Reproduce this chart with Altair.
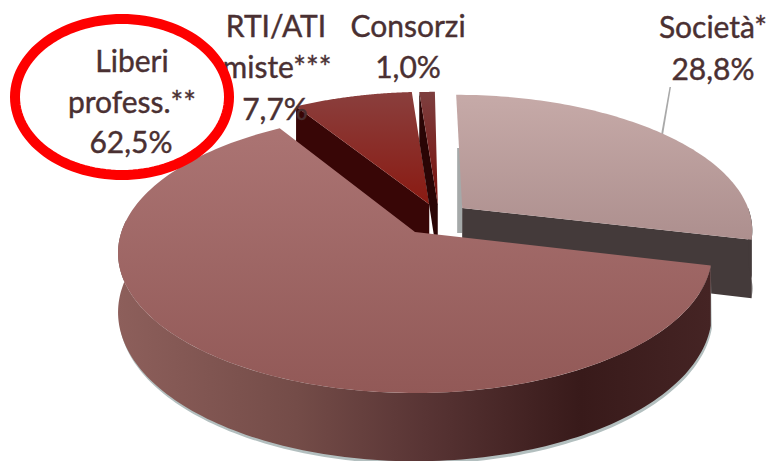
import math
import altair as alt
import pandas as pd

# ---- chart values ----
categories = ["Società*", "Liberi profess.**", "RTI/ATI miste***", "Consorzi"]
shares = [28.8, 62.5, 7.7, 1.0]
explode_x = [0.165, 0.0, 0.05, 0.08]
explode_y = [-0.18, 0.0, -0.21, -0.21]
top_stops = [
    ["#c6aaa8", "#ad8f8e"],
    ["#ab7473", "#925957"],
    ["#8a3f3d", "#8a1a12"],
    ["#7d3f3f", "#7a0f0a"],
]
wall_colors = ["#443a3a", "#3a1c1c", "#380606", "#2a0505"]
label_lines = ["Liberi", "profess.**", "62,5%", "RTI/ATI", "miste***", "7,7%",
               "Consorzi", "1,0%", "Società*", "28,8%"]
label_x = [132, 132, 131, 276, 277, 275, 408, 408, 713, 713]
label_y = [72, 113, 153, 37, 78, 120, 37, 78, 38, 80]

# ---- pie geometry (perspective disc) ----
CX, CY = 415, 232
A0, B0, K = 293.6, 136.85, 0.15
DEPTH = 58


def project(X, Y, drop=0.0):
    w = 1 - K * Y
    return CX + A0 * X / w, CY + B0 * Y / w + drop / w


def arc(i, t0, t1, drop=0.0, n=90):
    pts = []
    for j in range(n + 1):
        t = math.radians(t0 + (t1 - t0) * j / n)
        pts.append(project(explode_x[i] + math.cos(t), explode_y[i] + math.sin(t), drop))
    return pts


angles = []
a = -90.0
for s in shares:
    angles.append((a, a + s * 3.6))
    a += s * 3.6

xs = alt.Scale(domain=[8, 772], range=[0, 764], nice=False, zero=False)
ys = alt.Scale(domain=[8, 461], range=[0, 453], nice=False, zero=False)


def poly(points, fill, opacity=1.0):
    df = pd.DataFrame({"x": [p[0] for p in points], "y": [p[1] for p in points],
                       "o": list(range(len(points)))})
    return alt.Chart(df).mark_line(
        filled=True, fill=fill, stroke=None, strokeWidth=0, interpolate="linear-closed",
        opacity=opacity, clip=False
    ).encode(x=alt.X("x:Q", scale=xs, axis=None), y=alt.Y("y:Q", scale=ys, axis=None),
             order=alt.Order("o:Q"))


def vgrad(c0, c1):
    return alt.Gradient(gradient="linear", x1=0, x2=0, y1=0, y2=1,
                        stops=[alt.GradientStop(color=c0, offset=0), alt.GradientStop(color=c1, offset=1)])


rim_grad = alt.Gradient(gradient="linear", x1=0, x2=1, y1=0, y2=0, stops=[
    alt.GradientStop(color="#8d5f5b", offset=0),
    alt.GradientStop(color="#744c48", offset=0.3),
    alt.GradientStop(color="#583434", offset=0.52),
    alt.GradientStop(color="#381a1a", offset=0.78),
    alt.GradientStop(color="#452424", offset=1),
])

layers = []

layers.append(poly([(669.5, 87), (671, 87), (663, 135), (661, 135)], "#a9a9a9"))

for i in [0, 2, 3]:
    t0, t1 = angles[i]
    apex = project(explode_x[i], explode_y[i])
    apex_low = project(explode_x[i], explode_y[i], DEPTH)
    if i == 0:
        end = arc(i, t1, t1, n=1)[0]
        end_low = arc(i, t1, t1, DEPTH, n=1)[0]
        layers.append(poly([(apex[0] - 5, 148), (apex[0], 148), (apex[0], 233), (apex[0] - 5, 233)], "#a5a9a9"))
        rim_top = arc(i, 0, t1)
        rim_low = arc(i, 0, t1, DEPTH)
        layers.append(poly(rim_top + rim_low[::-1], "#9fa9a9"))
        layers.append(poly([apex, end, end_low, apex_low], wall_colors[i]))
        layers.append(poly(rim_top + rim_low[::-1], wall_colors[i]))
    else:
        start = arc(i, t0, t0, n=1)[0]
        start_low = arc(i, t0, t0, DEPTH, n=1)[0]
        layers.append(poly([apex, start, start_low, apex_low], wall_colors[i]))
    layers.append(poly([apex] + arc(i, t0, t1), vgrad(*top_stops[i])))

i = 1
t0, t1 = angles[i]
apex = project(explode_x[i], explode_y[i])
rim_top = arc(i, t0, 185, n=140)
rim_low = arc(i, t0, 185, DEPTH, n=140)
layers.append(poly(rim_top + [(p[0] + 1, p[1] + 3) for p in rim_low[::-1]], "#b3bfbf"))
layers.append(poly(rim_top + rim_low[::-1], rim_grad))
layers.append(poly([apex] + arc(i, t0, t1, n=160), vgrad(*top_stops[i])))

labels = pd.DataFrame({"t": label_lines, "x": label_x, "y": label_y})
layers.append(alt.Chart(labels).mark_text(
    font="Lato", fontSize=30, color="#4a3032", stroke="#4a3032", strokeWidth=0.4,
    align="center", baseline="alphabetic"
).encode(x=alt.X("x:Q", scale=xs, axis=None), y=alt.Y("y:Q", scale=ys, axis=None), text="t:N"))

ring_t = list(range(0, 360, 3))
ring = pd.DataFrame({
    "x": [122 + 107 * math.cos(math.radians(t)) for t in ring_t],
    "y": [97 + 78 * math.sin(math.radians(t)) for t in ring_t],
    "o": ring_t,
})
layers.append(alt.Chart(ring).mark_line(
    color="#fe0000", strokeWidth=10, interpolate="linear-closed"
).encode(x=alt.X("x:Q", scale=xs, axis=None), y=alt.Y("y:Q", scale=ys, axis=None), order=alt.Order("o:Q")))

chart = alt.layer(*layers).properties(
    width=764, height=453, padding=0, background="white",
    autosize=alt.AutoSizeParams(type="none")
).configure_view(stroke=None)

chart.save("out.html", embed_options={"renderer": "svg", "actions": False})
